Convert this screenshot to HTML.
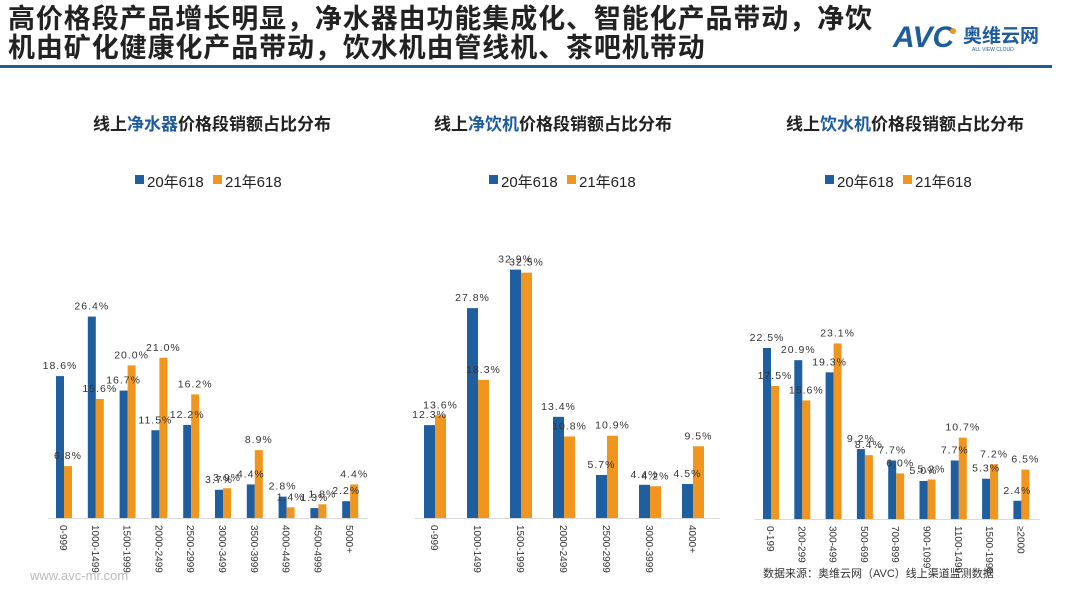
<!DOCTYPE html>
<html><head><meta charset="utf-8"><style>
html,body{margin:0;padding:0;background:#fff;}
body{width:1080px;height:608px;overflow:hidden;position:relative;font-family:"Liberation Sans","Noto Sans CJK SC",sans-serif;}
.t{position:absolute;left:8px;top:5px;font-size:27px;font-weight:bold;color:#222;line-height:29px;letter-spacing:0.9px;}
</style></head><body>
<div class="t">高价格段产品增长明显，净水器由功能集成化、智能化产品带动，净饮<br>机由矿化健康化产品带动，饮水机由管线机、茶吧机带动</div>
<svg width="1080" height="608" style="position:absolute;left:0;top:0" xmlns="http://www.w3.org/2000/svg" font-family="Liberation Sans, Noto Sans CJK SC, sans-serif">
<rect x="0" y="65" width="1052" height="3" fill="#1f5c9c"/>
<text x="893" y="47" font-size="30" font-weight="bold" font-style="italic" fill="#1f5c9c">AVC</text>
<circle cx="953" cy="31" r="3" fill="#f0961e"/>
<text x="963" y="42" font-size="19" font-weight="bold" fill="#1f5c9c">奥维云网</text>
<text x="972" y="51" font-size="5" fill="#1f5c9c">ALL VIEW CLOUD</text>
<g id="charts"></g>
<text x="30" y="580" font-size="13" fill="#bbb">www.avc-mr.com</text>
<text x="763" y="577" font-size="11" fill="#333">数据来源：奥维云网（AVC）线上渠道监测数据</text>
</svg>
<script>
const B="#1f5f9f",O="#f0961e";
const charts=[
 {t:["线上","净水器","价格段销额占比分布"],tc:212,lx:135,x0:56,sp:31.8,w:8,base:518,sc:7.63,ax:[48,368],
  cats:["0-999","1000-1499","1500-1999","2000-2499","2500-2999","3000-3499","3500-3999","4000-4499","4500-4999","5000+"],
  a:[18.6,26.4,16.7,11.5,12.2,3.7,4.4,2.8,1.3,2.2],b:[6.8,15.6,20.0,21.0,16.2,3.9,8.9,1.4,1.8,4.4]},
 {t:["线上","净饮机","价格段销额占比分布"],tc:553,lx:489,x0:424,sp:43,w:11,base:518,sc:7.55,ax:[415,720],
  cats:["0-999","1000-1499","1500-1999","2000-2499","2500-2999","3000-3999","4000+"],
  a:[12.3,27.8,32.9,13.4,5.7,4.4,4.5],b:[13.6,18.3,32.5,10.8,10.9,4.2,9.5]},
 {t:["线上","饮水机","价格段销额占比分布"],tc:905,lx:825,x0:763,sp:31.3,w:8,base:519,sc:7.6,ax:[755,1040],
  cats:["0-199","200-299","300-499","500-699","700-899","900-1099","1100-1499","1500-1999","≥2000"],
  a:[22.5,20.9,19.3,9.2,7.7,5.0,7.7,5.3,2.4],b:[17.5,15.6,23.1,8.4,6.0,5.2,10.7,7.2,6.5]}
];
let s="";
for(const c of charts){
 s+=`<text x="${c.tc}" y="130" text-anchor="middle" font-size="17" font-weight="bold" fill="#222">${c.t[0]}<tspan fill="#1f5c9c">${c.t[1]}</tspan>${c.t[2]}</text>`;
 s+=`<rect x="${c.lx}" y="175" width="9" height="9" fill="${B}"/><text x="${c.lx+12}" y="187" font-size="15" fill="#222">20年618</text>`;
 s+=`<rect x="${c.lx+78}" y="175" width="9" height="9" fill="${O}"/><text x="${c.lx+90}" y="187" font-size="15" fill="#222">21年618</text>`;
 s+=`<line x1="${c.ax[0]}" x2="${c.ax[1]}" y1="${c.base+0.5}" y2="${c.base+0.5}" stroke="#d9d9d9" stroke-width="1"/>`;
 c.cats.forEach((k,i)=>{
  const x=c.x0+i*c.sp;
  const ha=c.a[i]*c.sc,hb=c.b[i]*c.sc;
  s+=`<rect x="${x}" y="${c.base-ha}" width="${c.w}" height="${ha}" fill="${B}"/>`;
  s+=`<rect x="${x+c.w}" y="${c.base-hb}" width="${c.w}" height="${hb}" fill="${O}"/>`;
  s+=`<text x="${x+c.w/2}" y="${c.base-ha-7}" text-anchor="middle" font-size="10.5" fill="#333" letter-spacing="1">${c.a[i].toFixed(1)}%</text>`;
  s+=`<text x="${x+c.w*1.5}" y="${c.base-hb-7}" text-anchor="middle" font-size="10.5" fill="#333" letter-spacing="1">${c.b[i].toFixed(1)}%</text>`;
  s+=`<text transform="translate(${x+c.w-4},${c.base+7}) rotate(90)" font-size="10" fill="#333">${k}</text>`;
 });
}
document.getElementById("charts").innerHTML=s;
</script>
</body></html>
